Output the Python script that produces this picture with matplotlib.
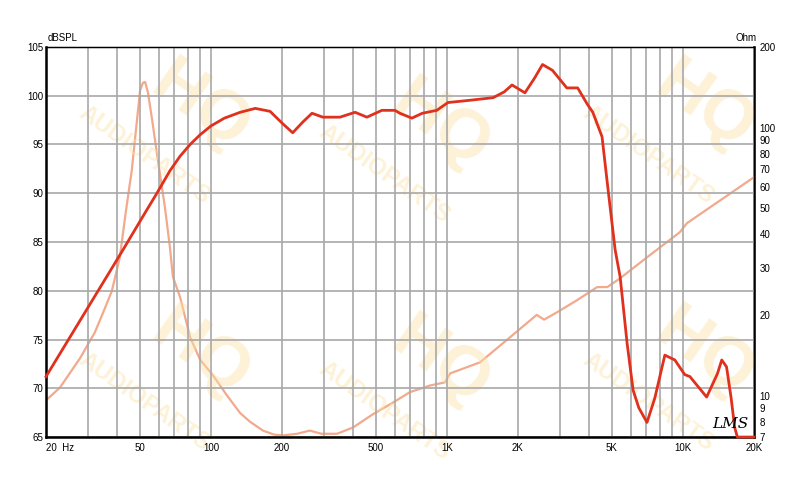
import matplotlib
matplotlib.use("Agg")
import matplotlib.pyplot as plt

# SPL response (red)
spl_freq = [20, 42.4, 52, 59, 67, 74, 81.6, 90, 100, 114, 133, 154, 178, 200, 222,
            245, 268, 298, 352, 408, 458, 530, 602, 632, 710, 786, 905, 1010,
            1216, 1570, 1750, 1886, 2140, 2350, 2540, 2800, 3220, 3580, 3940,
            4150, 4540, 4820, 5160, 5420, 5800, 6150, 6500, 7040, 7600, 8380,
            9240, 10180, 10700, 12600, 14000, 14600, 15300, 16000, 16560, 17000,
            20000]
spl_db = [71.2, 84.2, 87.8, 90.0, 92.3, 93.8, 95.0, 96.0, 96.9, 97.7, 98.3, 98.7,
          98.4, 97.2, 96.2, 97.3, 98.2, 97.8, 97.8, 98.3, 97.8, 98.5, 98.5, 98.2,
          97.7, 98.2, 98.5, 99.3, 99.5, 99.8, 100.4, 101.1, 100.3, 101.8, 103.2,
          102.6, 100.8, 100.8, 99.1, 98.3, 95.8, 90.3, 84.2, 81.4, 74.6, 69.8,
          68.0, 66.5, 69.0, 73.4, 72.9, 71.4, 71.2, 69.1, 71.5, 72.9, 72.2, 69.0,
          66.0, 65.0, 65.0]

# impedance (salmon)
imp_freq = [20, 22.9, 25.2, 27.9, 32.2, 35, 38.0, 41.1, 43.5, 46.2, 48.5, 50.1,
            51.5, 52.6, 54.1, 56.5, 59, 63.8, 67.0, 69.0, 74.0, 81.6, 90, 102,
            117, 133, 146, 166, 185, 202, 232, 262, 294, 342, 400, 484, 589, 697,
            847, 981, 1032, 1380, 1790, 2400, 2580, 2940, 3560, 4330, 4780, 5420,
            7040, 9700, 10400, 20000]
imp_ohm = [9.6, 10.7, 12.1, 13.8, 17.2, 20.5, 24.5, 32.8, 48, 69.4, 105, 138, 147,
           148, 135, 105, 80.2, 50.5, 35.8, 27.7, 23.3, 16.5, 13.6, 11.9, 10.0,
           8.6, 8.0, 7.4, 7.15, 7.1, 7.2, 7.4, 7.2, 7.2, 7.6, 8.5, 9.4, 10.3,
           10.9, 11.2, 12.1, 13.3, 16.1, 20.0, 19.2, 20.5, 22.7, 25.4, 25.4,
           27.4, 32.8, 40.7, 44.0, 65.3]

x_major = [20, 50, 100, 200, 500, 1000, 2000, 5000, 10000, 20000]
x_labels = ["20  Hz", "50", "100", "200", "500", "1K", "2K", "5K", "10K", "20K"]
x_grid = [20, 30, 40, 50, 60, 70, 80, 90, 100, 200, 300, 400, 500, 600, 700, 800,
          900, 1000, 2000, 3000, 4000, 5000, 6000, 7000, 8000, 9000, 10000, 20000]
db_ticks = [65, 70, 75, 80, 85, 90, 95, 100, 105]
ohm_ticks = [7, 8, 9, 10, 20, 30, 40, 50, 60, 70, 80, 90, 100, 200]

plt.rcParams['font.family'] = ['Liberation Sans', 'DejaVu Sans']

fig = plt.figure(figsize=(8, 4.84), dpi=100)
ax = fig.add_axes([0.0575, 0.097, 0.885, 0.806])

# faint watermark
wm = "#fbe3a8"
for (x, y) in [(0.25, 0.78), (0.55, 0.74), (0.88, 0.78), (0.25, 0.27), (0.55, 0.25), (0.88, 0.27)]:
    fig.text(x, y, "HQ", fontsize=50, fontweight="bold", color=wm, rotation=-35,
             ha="center", va="center", alpha=0.45, zorder=0)
    fig.text(x - 0.07, y - 0.10, "AUDIOPARTS", fontsize=17, fontweight="bold", color=wm,
             rotation=-35, ha="center", va="center", alpha=0.45, zorder=0)

ax.set_xscale("log")
ax.set_xlim(20, 20000)
ax.set_ylim(65, 105)
ax.set_xticks(x_grid, minor=True)
ax.set_xticks(x_major)
ax.set_xticklabels(x_labels)
ax.xaxis.set_minor_formatter(matplotlib.ticker.NullFormatter())
ax.set_yticks(db_ticks)
for xv in x_grid:
    ax.axvline(xv, color="#a8a8a8", lw=1.2, zorder=1)
for yv in db_ticks:
    ax.axhline(yv, color="#a8a8a8", lw=1.2, zorder=1)
ax.tick_params(axis="both", which="both", length=0, labelsize=7, pad=2)
ax.tick_params(axis="x", pad=4)
for s in ax.spines.values():
    s.set_color("black")
    s.set_linewidth(1.0)
ax.spines["left"].set_linewidth(1.8)
ax.spines["bottom"].set_linewidth(1.8)
for lbl in ax.get_xticklabels():
    lbl.set_horizontalalignment("left" if lbl.get_text().startswith("20 ") else "center")

ax2 = ax.twinx()
ax2.set_yscale("log")
ax2.set_ylim(7, 200)
ax2.set_yticks(ohm_ticks)
ax2.set_yticklabels([str(t) for t in ohm_ticks])
ax2.yaxis.set_minor_formatter(matplotlib.ticker.NullFormatter())
ax2.tick_params(axis="y", which="both", length=0, labelsize=7, pad=4)
ax2.spines["right"].set_linewidth(1.8)

ax2.plot(imp_freq, imp_ohm, color="#f2a98c", lw=1.6, zorder=3,
         solid_joinstyle="round")
ax.plot(spl_freq, spl_db, color="#e0301e", lw=2.0, zorder=4, clip_on=False,
        solid_joinstyle="round")
ax.set_zorder(ax2.get_zorder() + 1)
ax.patch.set_visible(False)

fig.text(0.059, 0.915, "dBSPL", fontsize=7, ha="left")
fig.text(0.92, 0.915, "Ohm", fontsize=7, ha="left")
fig.text(0.89, 0.115, "LMS", fontsize=11, style="italic", fontfamily="DejaVu Serif")

fig.savefig("out.png", dpi=100)
